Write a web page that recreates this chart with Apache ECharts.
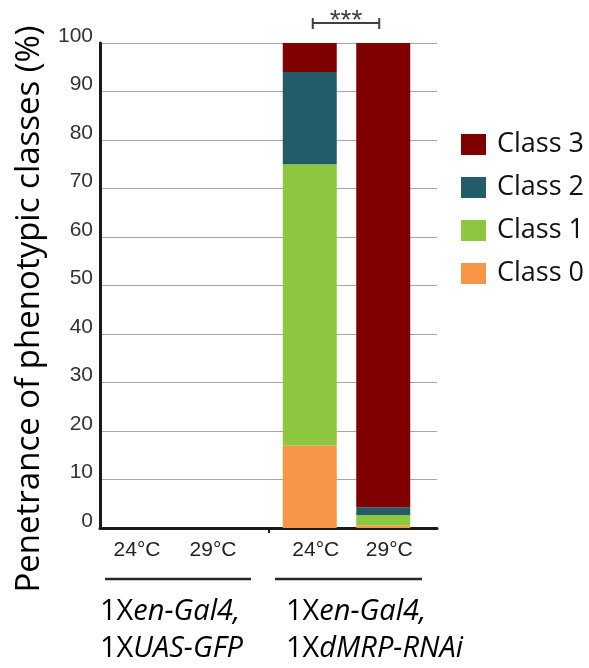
<!DOCTYPE html>
<html>
<head>
<meta charset="utf-8">
<script src="https://cdn.jsdelivr.net/npm/echarts@6/dist/echarts.min.js"></script>
<style>html,body{margin:0;padding:0;background:#fff;}#chart{width:589px;height:668px;}</style>
</head>
<body>
<div id="chart"></div>
<script>
// ---- data ----
var groupLeftCats = ['24°C', '29°C'];      // 1Xen-Gal4, 1XUAS-GFP
var groupRightCats = ['24°C', '29°C'];     // 1Xen-Gal4, 1XdMRP-RNAi
var classNames = ['Class 0', 'Class 1', 'Class 2', 'Class 3'];
var leftClass0 = [0, 0];
var leftClass1 = [0, 0];
var leftClass2 = [0, 0];
var leftClass3 = [0, 0];
var rightClass0 = [17, 0.5];
var rightClass1 = [58, 2.2];
var rightClass2 = [19, 1.6];
var rightClass3 = [6, 95.7];
var yTicks = [0, 10, 20, 30, 40, 50, 60, 70, 80, 90, 100];
var legendOrder = ['Class 3', 'Class 2', 'Class 1', 'Class 0'];
var signifLabel = '***';
var yTitle = 'Penetrance of phenotypic classes (%)';

var colors = {'Class 0': '#F79646', 'Class 1': '#8DC63F', 'Class 2': '#235B69', 'Class 3': '#7F0000'};
var leftData = [leftClass0, leftClass1, leftClass2, leftClass3];
var rightData = [rightClass0, rightClass1, rightClass2, rightClass3];

var chart = echarts.init(document.getElementById('chart'));
var TOP = 43, BOTTOM = 140;
var series = [];
classNames.forEach(function (n, i) {
  series.push({name: n, type: 'bar', stack: 'L', xAxisIndex: 1, yAxisIndex: 1, barWidth: 54,
    itemStyle: {color: colors[n]}, data: leftData[i]});
});
classNames.forEach(function (n, i) {
  series.push({name: n, type: 'bar', stack: 'R', xAxisIndex: 2, yAxisIndex: 2, barWidth: 54,
    itemStyle: {color: colors[n]}, data: rightData[i]});
});

var xLabelStyle = {fontSize: 21, color: '#222', fontFamily: 'Liberation Sans, Arial', margin: 12};

chart.setOption({
  animation: false,
  backgroundColor: '#fff',
  grid: [
    {left: 100, right: 152, top: TOP, bottom: BOTTOM},
    {left: 99, width: 152, top: TOP, bottom: BOTTOM},
    {left: 273, width: 147, top: TOP, bottom: BOTTOM}
  ],
  xAxis: [
    {gridIndex: 0, type: 'value', min: 0, max: 2, interval: 1,
      axisLine: {show: true, lineStyle: {color: '#1a1a1a', width: 3}},
      axisTick: {show: true, customValues: [1], length: 5, lineStyle: {color: '#1a1a1a', width: 2}},
      axisLabel: {show: false}, splitLine: {show: false}},
    {gridIndex: 1, type: 'category', data: groupLeftCats,
      axisLine: {show: false}, axisTick: {show: false}, axisLabel: xLabelStyle},
    {gridIndex: 2, type: 'category', data: groupRightCats,
      axisLine: {show: false}, axisTick: {show: false},
      axisLabel: Object.assign({}, xLabelStyle, {padding: [0, 0, 0, 12]})}
  ],
  yAxis: [
    {gridIndex: 0, type: 'value', min: 0, max: 100, interval: 10,
      axisLine: {show: true, lineStyle: {color: '#1a1a1a', width: 3}},
      axisTick: {show: false},
      axisLabel: {fontSize: 21, color: '#333', fontFamily: 'Liberation Sans, Arial', margin: 7,
        verticalAlign: 'bottom', lineHeight: 14,
        customValues: yTicks},
      splitLine: {show: true, lineStyle: {color: '#A6A6A6', width: 1}}},
    {gridIndex: 1, type: 'value', min: 0, max: 100, show: false},
    {gridIndex: 2, type: 'value', min: 0, max: 100, show: false}
  ],
  legend: {
    data: legendOrder, orient: 'vertical', left: 461, top: 131, padding: 0,
    itemWidth: 25, itemHeight: 21, itemGap: 16, icon: 'rect',
    textStyle: {fontSize: 27, fontFamily: 'Open Sans', color: '#111', lineHeight: 21, padding: [0, 0, 0, 6]}
  },
  series: series
});

var p0 = chart.convertToPixel({xAxisIndex: 2}, groupRightCats[0]);
var p1 = chart.convertToPixel({xAxisIndex: 2}, groupRightCats[1]);
var bx1 = p0 + 3, bx2 = p1 - 4, by = 23;
var bracketColor = '#404040';
var ital = {fontStyle: 'italic', fontSize: 29, fontFamily: 'Open Sans', fill: '#000'};
var norm = {fontSize: 29, fontFamily: 'Open Sans', fill: '#000'};

chart.setOption({
  graphic: [
    {type: 'line', shape: {x1: bx1, y1: by, x2: bx2, y2: by}, style: {stroke: bracketColor, lineWidth: 2}},
    {type: 'line', shape: {x1: bx1, y1: by - 5, x2: bx1, y2: by + 6}, style: {stroke: bracketColor, lineWidth: 2}},
    {type: 'line', shape: {x1: bx2, y1: by - 5, x2: bx2, y2: by + 6}, style: {stroke: bracketColor, lineWidth: 2}},
    {type: 'text', x: (bx1 + bx2) / 2, y: 21, style: {text: signifLabel, fontSize: 28, fontFamily: 'Liberation Sans, Arial',
      fill: bracketColor, align: 'center', verticalAlign: 'middle'}},
    {type: 'text', x: 30, y: 309, rotation: Math.PI / 2,
      style: {text: yTitle, fontSize: 33, fontFamily: 'Open Sans', fill: '#000', align: 'center', verticalAlign: 'middle'}},
    {type: 'line', shape: {x1: 105, y1: 579, x2: 251, y2: 579}, style: {stroke: '#262626', lineWidth: 2.5}},
    {type: 'line', shape: {x1: 275, y1: 579, x2: 422, y2: 579}, style: {stroke: '#262626', lineWidth: 2.5}},
    {type: 'text', x: 100, y: 612, style: {text: '{n|1X}{i|en-Gal4,}', verticalAlign: 'middle', rich: {n: norm, i: ital}}},
    {type: 'text', x: 100, y: 649, style: {text: '{n|1X}{i|UAS-GFP}', verticalAlign: 'middle', rich: {n: norm, i: ital}}},
    {type: 'text', x: 286, y: 612, style: {text: '{n|1X}{i|en-Gal4,}', verticalAlign: 'middle', rich: {n: norm, i: ital}}},
    {type: 'text', x: 286, y: 649, style: {text: '{n|1X}{i|dMRP-RNAi}', verticalAlign: 'middle', rich: {n: norm, i: ital}}}
  ]
});
</script>
</body>
</html>
